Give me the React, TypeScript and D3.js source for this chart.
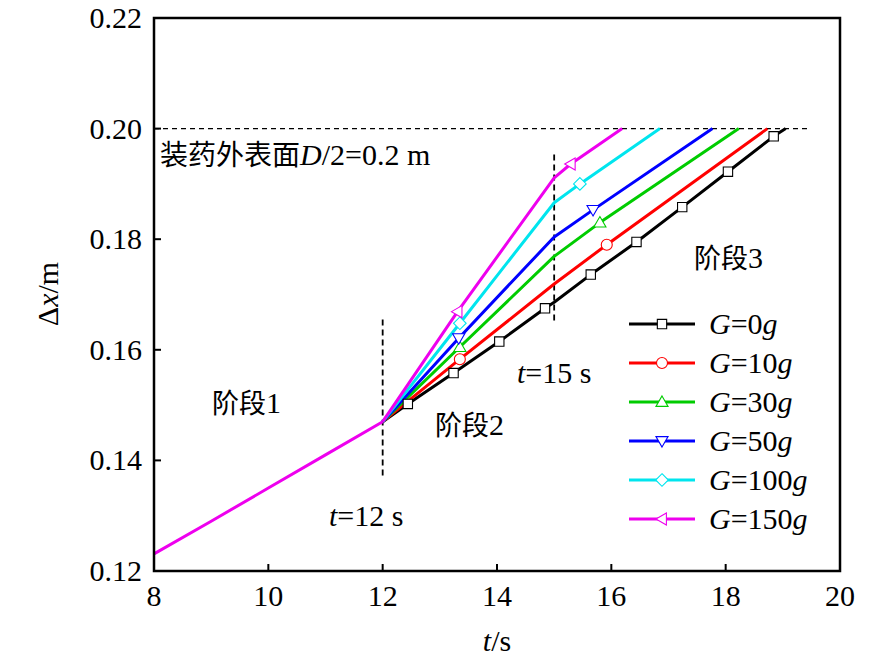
import * as d3 from "d3"

// shared stage-1 segment (all curves coincide before t = 12 s)
const stage1T = [8, 9, 10, 11, 12]
const stage1X = [0.1231, 0.129, 0.135, 0.141, 0.147]

const seriesNames = ["0", "10", "30", "50", "100", "150"]
const seriesColors = ["#000000", "#ff0000", "#00cc00", "#0000ff", "#00e5ee", "#ee00ee"]
const seriesMarkers = ["square", "circle", "triangleUp", "triangleDown", "diamond", "triangleLeft"]

const tG0 = [12, 12.44, 13.24, 14.04, 14.84, 15, 15.64, 16.44, 17.24, 18.04, 18.84, 19.05]
const xG0 = [0.147, 0.1502, 0.1558, 0.1615, 0.1675, 0.1686, 0.1736, 0.1795, 0.1858, 0.1922, 0.1986, 0.2]
const mG0 = [0, 1, 1, 1, 1, 0, 1, 1, 1, 1, 1, 0]

const tG10 = [12, 13.35, 15, 15.92, 18.73]
const xG10 = [0.147, 0.1583, 0.1719, 0.179, 0.2]
const mG10 = [0, 1, 0, 1, 0]

const tG30 = [12, 13.35, 15, 15.8, 18.23]
const xG30 = [0.147, 0.1605, 0.1769, 0.183, 0.2]
const mG30 = [0, 1, 0, 1, 0]

const tG50 = [12, 13.33, 15, 15.68, 17.77]
const xG50 = [0.147, 0.1621, 0.1804, 0.1853, 0.2]
const mG50 = [0, 1, 0, 1, 0]

const tG100 = [12, 13.35, 15, 15.45, 16.85]
const xG100 = [0.147, 0.1648, 0.1866, 0.19, 0.2]
const mG100 = [0, 1, 0, 1, 0]

const tG150 = [12, 13.31, 15, 15.29, 16.19]
const xG150 = [0.147, 0.1669, 0.1911, 0.1936, 0.2]
const mG150 = [0, 1, 0, 1, 0]

const allT = [tG0, tG10, tG30, tG50, tG100, tG150]
const allX = [xG0, xG10, xG30, xG50, xG100, xG150]
const allM = [mG0, mG10, mG30, mG50, mG100, mG150]

const xTicks = [8, 10, 12, 14, 16, 18, 20]
const yTicks = [0.12, 0.14, 0.16, 0.18, 0.2, 0.22]

const W = 886
const H = 662
const left = 154, right = 840, top = 18, bottom = 571
const SERIF = "Liberation Serif"
const CJK = "Noto Sans CJK SC"
const ts = { fontFamily: SERIF }
const cs = { fontFamily: CJK }

const markerPath = (type, s = 5.5) => {
    switch (type) {
        case "square":
            return `M${-s * 0.85},${-s * 0.85}H${s * 0.85}V${s * 0.85}H${-s * 0.85}Z`
        case "circle":
            return `M${s},0A${s},${s} 0 1,1 ${-s},0A${s},${s} 0 1,1 ${s},0Z`
        case "triangleUp":
            return `M0,${-s * 1.1}L${s * 1.1},${s * 0.8}L${-s * 1.1},${s * 0.8}Z`
        case "triangleDown":
            return `M0,${s * 1.1}L${s * 1.1},${-s * 0.8}L${-s * 1.1},${-s * 0.8}Z`
        case "diamond":
            return `M0,${-s * 1.15}L${s * 1.15},0L0,${s * 1.15}L${-s * 1.15},0Z`
        case "triangleLeft":
            return `M${-s * 1.1},0L${s * 0.8},${-s * 1.1}L${s * 0.8},${s * 1.1}Z`
    }
    return ""
}

const App = () => {
    const xScale = d3.scaleLinear().domain([8, 20]).range([left, right])
    const yScale = d3.scaleLinear().domain([0.12, 0.22]).range([bottom, top])

    const line = d3.line()
        .x(d => xScale(d[0]))
        .y(d => yScale(d[1]))

    const stage1 = stage1T.map((t, i) => [t, stage1X[i]])

    const legendY = (i) => 324 + i * 39

    return (
        <svg width={W} height={H} fontFamily={SERIF}
            style={{ position: "absolute", left: 0, top: 0, background: "#fff", fontFamily: SERIF }}>
            <style>{`text { font-family: "Liberation Serif"; } .cjk { font-family: "Noto Sans CJK SC"; }`}</style>
            <rect x={0} y={0} width={W} height={H} fill="#fff" />

            {/* D/2 line and stage dividers */}
            <line x1={xScale(8)} x2={xScale(19.45)} y1={yScale(0.2)} y2={yScale(0.2)}
                stroke="#000" strokeWidth={1.3} strokeDasharray="5,4" />
            <line x1={xScale(12)} x2={xScale(12)} y1={yScale(0.1655)} y2={yScale(0.1368)}
                stroke="#000" strokeWidth={1.8} strokeDasharray="6,4" />
            <line x1={xScale(15)} x2={xScale(15)} y1={yScale(0.1953)} y2={yScale(0.1648)}
                stroke="#000" strokeWidth={1.8} strokeDasharray="6,4" />

            {/* series */}
            {allT.map((tArr, k) => {
                const pts = tArr.map((t, i) => [t, allX[k][i]])
                return (
                    <path key={k} d={line(pts)} fill="none" stroke={seriesColors[k]} strokeWidth={3} strokeLinejoin="round" />
                )
            })}
            <path d={line(stage1)} fill="none" stroke={seriesColors[5]} strokeWidth={3} />
            {allT.map((tArr, k) => (
                <g key={"m" + k}>
                    {tArr.map((t, i) => allM[k][i] ? (
                        <path key={i} d={markerPath(seriesMarkers[k])}
                            transform={`translate(${xScale(t)},${yScale(allX[k][i])})`}
                            fill="#fff" stroke={seriesColors[k]} strokeWidth={1.1} />
                    ) : null)}
                </g>
            ))}

            {/* axes frame */}
            <rect x={left} y={top} width={right - left} height={bottom - top} fill="none" stroke="#000" strokeWidth={2.5} />
            {xTicks.map(t => (
                <line key={"xt" + t} x1={xScale(t)} x2={xScale(t)} y1={bottom} y2={bottom - 7} stroke="#000" strokeWidth={2} />
            ))}
            {yTicks.map(v => (
                <line key={"yt" + v} x1={left} x2={left + 7} y1={yScale(v)} y2={yScale(v)} stroke="#000" strokeWidth={2} />
            ))}
            {xTicks.map(t => (
                <text key={"xl" + t} x={xScale(t)} y={606} textAnchor="middle" fontSize={30} fontFamily={SERIF} style={ts}>{t}</text>
            ))}
            {yTicks.map(v => (
                <text key={"yl" + v} x={142} y={yScale(v) + 10} textAnchor="end" fontSize={30} fontFamily={SERIF} style={ts}>{v.toFixed(2)}</text>
            ))}

            {/* axis titles */}
            <text x={497} y={651} textAnchor="middle" fontSize={30} fontFamily={SERIF} style={ts}>
                <tspan fontStyle="italic">t</tspan>/s
            </text>
            <text transform={`translate(58,${294}) rotate(-90)`} textAnchor="middle" fontSize={30} fontFamily={SERIF} style={ts}>
                Δ<tspan fontStyle="italic">x</tspan>/m
            </text>

            {/* annotations */}
            <text x={160} y={165} fontSize={30} fontFamily={SERIF} style={ts}>
                <tspan className="cjk" fontSize={28} style={cs}>装药外表面</tspan><tspan fontStyle="italic">D</tspan>/2=0.2 m
            </text>
            <text x={212} y={413} fontSize={30} fontFamily={SERIF} style={ts}><tspan className="cjk" fontSize={27} style={cs}>阶段</tspan>1</text>
            <text x={435} y={435} fontSize={30} fontFamily={SERIF} style={ts}><tspan className="cjk" fontSize={27} style={cs}>阶段</tspan>2</text>
            <text x={694} y={268} fontSize={30} fontFamily={SERIF} style={ts}><tspan className="cjk" fontSize={27} style={cs}>阶段</tspan>3</text>
            <text x={329} y={526} fontSize={30} fontFamily={SERIF} style={ts}>
                <tspan fontStyle="italic">t</tspan>=12 s
            </text>
            <text x={517} y={383} fontSize={30} fontFamily={SERIF} style={ts}>
                <tspan fontStyle="italic">t</tspan>=15 s
            </text>

            {/* legend */}
            {seriesNames.map((n, i) => (
                <g key={n}>
                    <line x1={629} x2={695} y1={legendY(i)} y2={legendY(i)} stroke={seriesColors[i]} strokeWidth={3} />
                    <path d={markerPath(seriesMarkers[i])} transform={`translate(662,${legendY(i)})`}
                        fill="#fff" stroke={seriesColors[i]} strokeWidth={1.1} />
                    <text x={709} y={legendY(i) + 10} fontSize={30} fontFamily={SERIF} style={ts}>
                        <tspan fontStyle="italic">G</tspan>={n}<tspan fontStyle="italic">g</tspan>
                    </text>
                </g>
            ))}
        </svg>
    )
}

export default App
